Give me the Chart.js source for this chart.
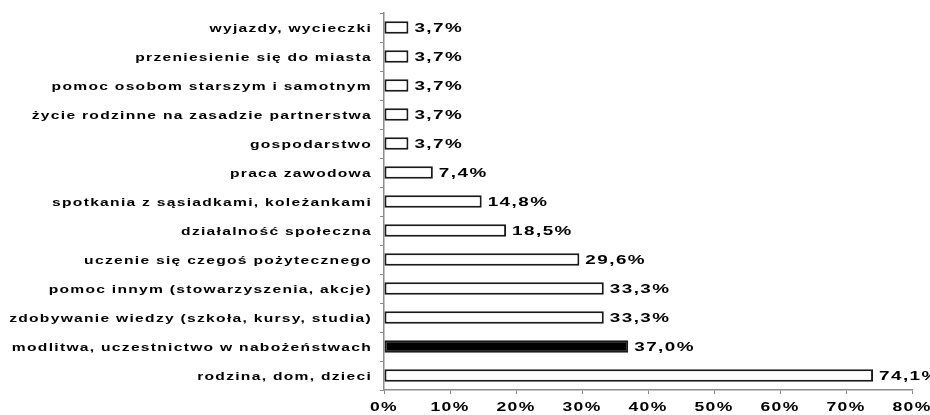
<!DOCTYPE html>
<html>
<head>
<meta charset="utf-8">
<script src="https://cdn.jsdelivr.net/npm/chart.js@4.4.1/dist/chart.umd.min.js"></script>
<style>
  body { margin: 0; background: #fff; }
  canvas { display: block; }
</style>
</head>
<body>
<canvas id="chart" width="930" height="415"></canvas>
<script>
// Categories, top to bottom
const categories = [
    'wyjazdy, wycieczki',
    'przeniesienie się do miasta',
    'pomoc osobom starszym i samotnym',
    'życie rodzinne na zasadzie partnerstwa',
    'gospodarstwo',
    'praca zawodowa',
    'spotkania z sąsiadkami, koleżankami',
    'działalność społeczna',
    'uczenie się czegoś pożytecznego',
    'pomoc innym (stowarzyszenia, akcje)',
    'zdobywanie wiedzy (szkoła, kursy, studia)',
    'modlitwa, uczestnictwo w nabożeństwach',
    'rodzina, dom, dzieci'
];

// Percent of answers
const values = [3.7, 3.7, 3.7, 3.7, 3.7, 7.4, 14.8, 18.5, 29.6, 33.3, 33.3, 37.0, 74.1];

// x axis ticks (percent)
const xTicks = [0, 10, 20, 30, 40, 50, 60, 70, 80];

// one highlighted row
const highlighted = 'modlitwa, uczestnictwo w nabożeństwach';

const fmt = v => v.toFixed(1).replace('.', ',') + '%';

// wide, stretched lettering
function drawWide(ctx, text, x, y, align, size, sx, gap) {
    ctx.save();
    ctx.font = 'bold ' + size + 'px "Liberation Sans", Arial, sans-serif';
    ctx.letterSpacing = gap + 'px';
    ctx.fillStyle = '#000';
    ctx.textAlign = align;
    ctx.textBaseline = 'middle';
    ctx.translate(x, y);
    ctx.scale(sx, 1);
    ctx.fillText(text, 0, 0);
    ctx.restore();
}

// category names, axis percentages and bar values
const wideText = {
    id: 'wideText',
    afterDraw(chart) {
        const ctx = chart.ctx;
        const xs = chart.scales.x;
        const ys = chart.scales.y;

        ys.ticks.forEach((t, i) => {
            drawWide(ctx, categories[i], ys.right - 12, ys.getPixelForTick(i) + 1, 'right', 11, 1.42, 0.9);
        });

        xs.ticks.forEach((t, i) => {
            drawWide(ctx, t.value + '%', xs.getPixelForTick(i), xs.top + 17, 'center', 13, 1.35, 1);
        });

        chart.getDatasetMeta(0).data.forEach((bar, i) => {
            drawWide(ctx, fmt(values[i]), bar.x + 6, bar.y + 1, 'left', 13, 1.45, 1);
        });
    }
};

const ctx = document.getElementById('chart').getContext('2d');

new Chart(ctx, {
    type: 'bar',
    data: {
        labels: categories,
        datasets: [{
            data: values,
            backgroundColor: categories.map(c => c === highlighted ? '#000' : '#fff'),
            borderColor: '#1a1a1a',
            borderWidth: 2,
            borderSkipped: false,
            barPercentage: 0.9,
            categoryPercentage: 0.48
        }]
    },
    options: {
        indexAxis: 'y',
        responsive: false,
        animation: false,
        layout: { padding: { top: 13, right: 18, left: 0, bottom: 0 } },
        plugins: {
            legend: { display: false },
            tooltip: { enabled: false }
        },
        scales: {
            x: {
                min: 0,
                max: 80,
                afterBuildTicks(scale) {
                    scale.ticks = xTicks.map(v => ({ value: v }));
                },
                afterFit(scale) {
                    scale.height = 25;
                    scale.paddingLeft = 0;
                    scale.paddingRight = 0;
                },
                grid: {
                    drawOnChartArea: false,
                    drawTicks: true,
                    tickLength: 4,
                    color: '#8c8c8c'
                },
                border: { color: '#8c8c8c', width: 1.5 },
                ticks: {
                    autoSkip: false,
                    maxRotation: 0,
                    color: 'rgba(0,0,0,0)',
                    font: { size: 13, weight: 'bold' }
                }
            },
            y: {
                afterFit(scale) {
                    scale.width = 384;
                },
                grid: {
                    offset: true,
                    drawOnChartArea: false,
                    drawTicks: true,
                    tickLength: 4,
                    color: '#8c8c8c'
                },
                border: { color: '#8c8c8c', width: 1.5 },
                ticks: {
                    color: 'rgba(0,0,0,0)',
                    font: { size: 11, weight: 'bold' }
                }
            }
        }
    },
    plugins: [wideText]
});
</script>
</body>
</html>
